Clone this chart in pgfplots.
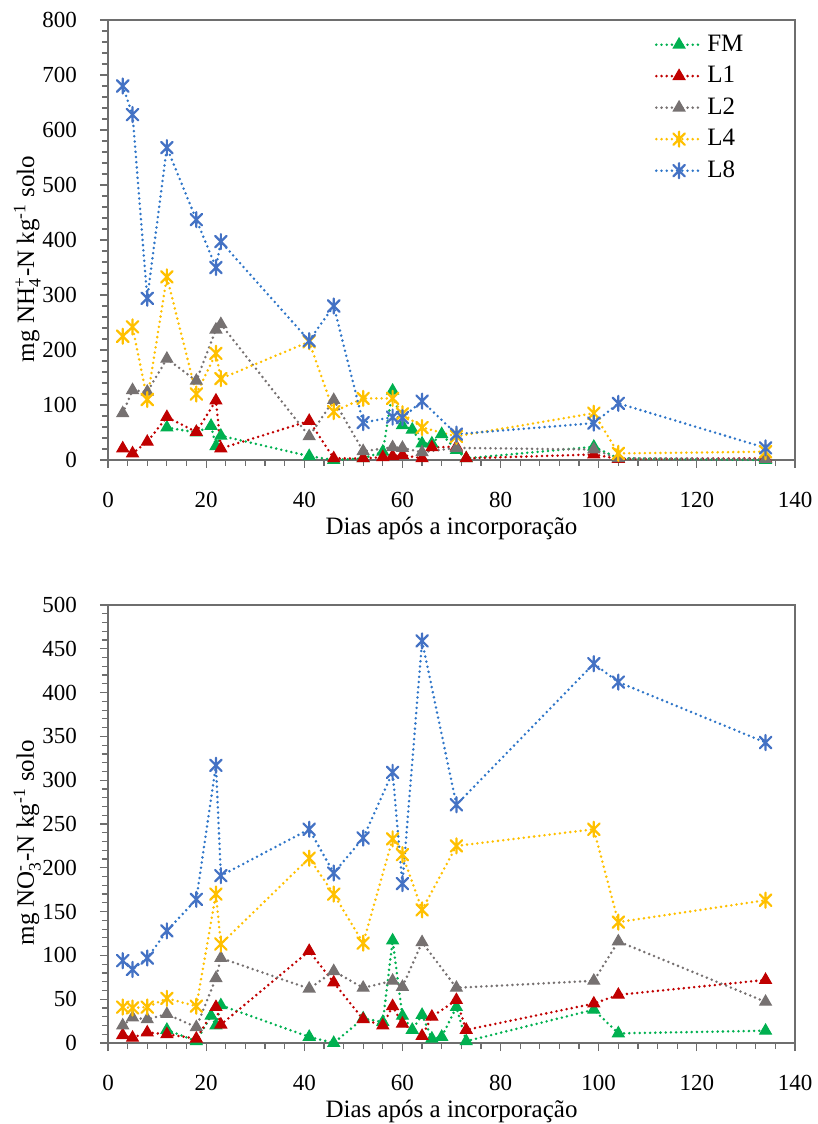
\documentclass[border=0pt]{standalone}
\usepackage{fontspec}
\setmainfont{Liberation Serif}
\usepackage{amsmath}
\usepackage{pgfplots}
\pgfplotsset{compat=1.18}

\definecolor{cFM}{RGB}{0,176,80}
\definecolor{cL1}{RGB}{192,0,0}
\definecolor{cL2}{RGB}{118,113,113}
\definecolor{cL4}{RGB}{255,192,0}
\definecolor{cL8}{RGB}{68,114,196}
\definecolor{cL8l}{RGB}{46,117,200}
\definecolor{axgray}{RGB}{110,110,110}

\pgfdeclareplotmark{xstar}{%
  \pgfpathmoveto{\pgfqpoint{-.8\pgfplotmarksize}{-.8\pgfplotmarksize}}%
  \pgfpathlineto{\pgfqpoint{.8\pgfplotmarksize}{.8\pgfplotmarksize}}%
  \pgfpathmoveto{\pgfqpoint{-.8\pgfplotmarksize}{.8\pgfplotmarksize}}%
  \pgfpathlineto{\pgfqpoint{.8\pgfplotmarksize}{-.8\pgfplotmarksize}}%
  \pgfpathmoveto{\pgfqpoint{0pt}{-1.05\pgfplotmarksize}}%
  \pgfpathlineto{\pgfqpoint{0pt}{1.05\pgfplotmarksize}}%
  \pgfusepathqstroke}

\pgfplotsset{
  common/.style={
    scale only axis, width=343.5pt,
    xmin=0, xmax=140, xtick={0,20,...,140}, minor x tick num=4,
    tick align=outside, tick pos=left,
    major tick length=4pt, minor tick length=3pt,
    axis line style={axgray, line width=0.8pt},
    every tick/.style={axgray, line width=0.6pt},
    tick label style={font=\fontsize{11.5}{13}\selectfont\rmfamily},
    xticklabel={\rmfamily\pgfmathprintnumber[assume math mode=true]{\tick}},
    yticklabel={\hbox{\rmfamily\pgfmathprintnumber[assume math mode=true]{\tick}\kern8pt}},
    xticklabel shift=8.5pt,
    label style={font=\fontsize{12.5}{15}\selectfont},
    ylabel shift=-6pt, xlabel shift=-2pt,
    ylabel style={at={(ticklabel cs:0.457)}},
    xlabel={Dias após a incorporação},
    clip=false,
    legend image code/.code={\draw[mark repeat=2,mark phase=2,##1] plot coordinates {(0cm,0cm) (0.4cm,0cm) (0.8cm,0cm)};},
  },
  dl/.style={line width=1.4pt, dash pattern=on 0pt off 2.6pt, line cap=round},
  sFM/.style={dl, cFM, mark=triangle*, mark size=3.3pt, mark options={solid, fill=cFM, draw=cFM, line width=0.6pt}},
  sL1/.style={dl, cL1, mark=triangle*, mark size=3.3pt, mark options={solid, fill=cL1, draw=cL1, line width=0.6pt}},
  sL2/.style={dl, cL2, mark=triangle*, mark size=3.3pt, mark options={solid, fill=cL2, draw=cL2, line width=0.6pt}},
  sL4/.style={dl, cL4, mark=xstar, mark size=3.6pt, mark options={solid, draw=cL4, line width=1.1pt}},
  sL8/.style={dl, cL8l, mark=xstar, mark size=3.6pt, mark options={solid, draw=cL8, line width=1.1pt}},
}

\begin{document}
\begin{tikzpicture}
\useasboundingbox (0,0) rectangle (409pt,562pt);
\begin{axis}[common, at={(54pt,332pt)}, anchor=south west, height=220pt,
  ymin=0, ymax=800, ytick={0,100,...,800}, minor y tick num=4,
  ylabel={mg NH$_{\text{4}}^{\text{+}}$-N kg\textsuperscript{-1} solo},
  legend style={at={(0.94,0.985)}, anchor=north east, draw=none, fill=none,
    font=\fontsize{12.5}{15}\selectfont, row sep=2pt},
  legend cell align=left]
\addplot[sFM] coordinates {(12,59) (18,50) (21,62) (22,25) (23,44) (41,7) (46,0) (52,3) (56,15) (58,126) (60,63) (62,55) (64,30) (66,30) (68,47) (71,18) (73,3) (99,24) (104,3) (134,0)};
\addlegendentry{FM}
\addplot[sL1] coordinates {(3,21) (5,12) (8,33) (12,78) (18,51) (22,108) (23,21) (41,71) (46,3) (52,3) (56,5) (58,7) (60,9) (64,3) (66,23) (71,24) (73,3) (99,10) (104,2) (134,3)};
\addlegendentry{L1}
\addplot[sL2] coordinates {(3,85) (5,127) (8,124) (12,184) (18,144) (22,237) (23,247) (41,43) (46,109) (52,16) (58,23) (60,22) (64,14) (71,22) (99,19) (104,3) (134,2)};
\addlegendentry{L2}
\addplot[sL4] coordinates {(3,225) (5,242) (8,110) (12,333) (18,120) (22,194) (23,148) (41,215) (46,88) (52,112) (58,112) (60,84) (64,59) (71,43) (99,85) (104,12) (134,15)};
\addlegendentry{L4}
\addplot[sL8] coordinates {(3,680) (5,628) (8,294) (12,568) (18,437) (22,350) (23,397) (41,217) (46,280) (52,68) (58,78) (60,77) (64,107) (71,47) (99,67) (104,103) (134,22)};
\addlegendentry{L8}
\end{axis}
\begin{axis}[common, at={(54pt,40.5pt)}, anchor=south west, height=219pt,
  ymin=0, ymax=500, ytick={0,50,...,500}, minor y tick num=4,
  ylabel={mg NO$_{\text{3}}^{\text{-}}$-N kg\textsuperscript{-1} solo}]
\addplot[sFM] coordinates {(12,15) (18,2) (21,31) (22,20) (23,43) (41,7) (46,0) (52,28) (56,24) (58,117) (60,31) (62,15) (64,32) (66,5) (68,7) (71,41) (73,2) (99,38) (104,11) (134,14)};
\addplot[sL1] coordinates {(3,9) (5,6) (8,12) (12,10) (18,5) (22,41) (23,21) (41,105) (46,69) (52,27) (56,20) (58,42) (60,22) (64,8) (66,30) (71,49) (73,15) (99,45) (104,55) (134,72)};
\addplot[sL2] coordinates {(3,20) (5,29) (8,27) (12,33) (18,18) (22,74) (23,97) (41,62) (46,82) (52,63) (58,71) (60,64) (64,115) (71,63) (99,71) (104,116) (134,47)};
\addplot[sL4] coordinates {(3,41) (5,40) (8,41) (12,51) (18,42) (22,170) (23,113) (41,211) (46,170) (52,114) (58,233) (60,215) (64,152) (71,225) (99,244) (104,138) (134,163)};
\addplot[sL8] coordinates {(3,94) (5,84) (8,97) (12,128) (18,164) (22,317) (23,191) (41,244) (46,194) (52,234) (58,309) (60,182) (64,459) (71,272) (99,433) (104,412) (134,343)};
\end{axis}
\end{tikzpicture}
\end{document}
